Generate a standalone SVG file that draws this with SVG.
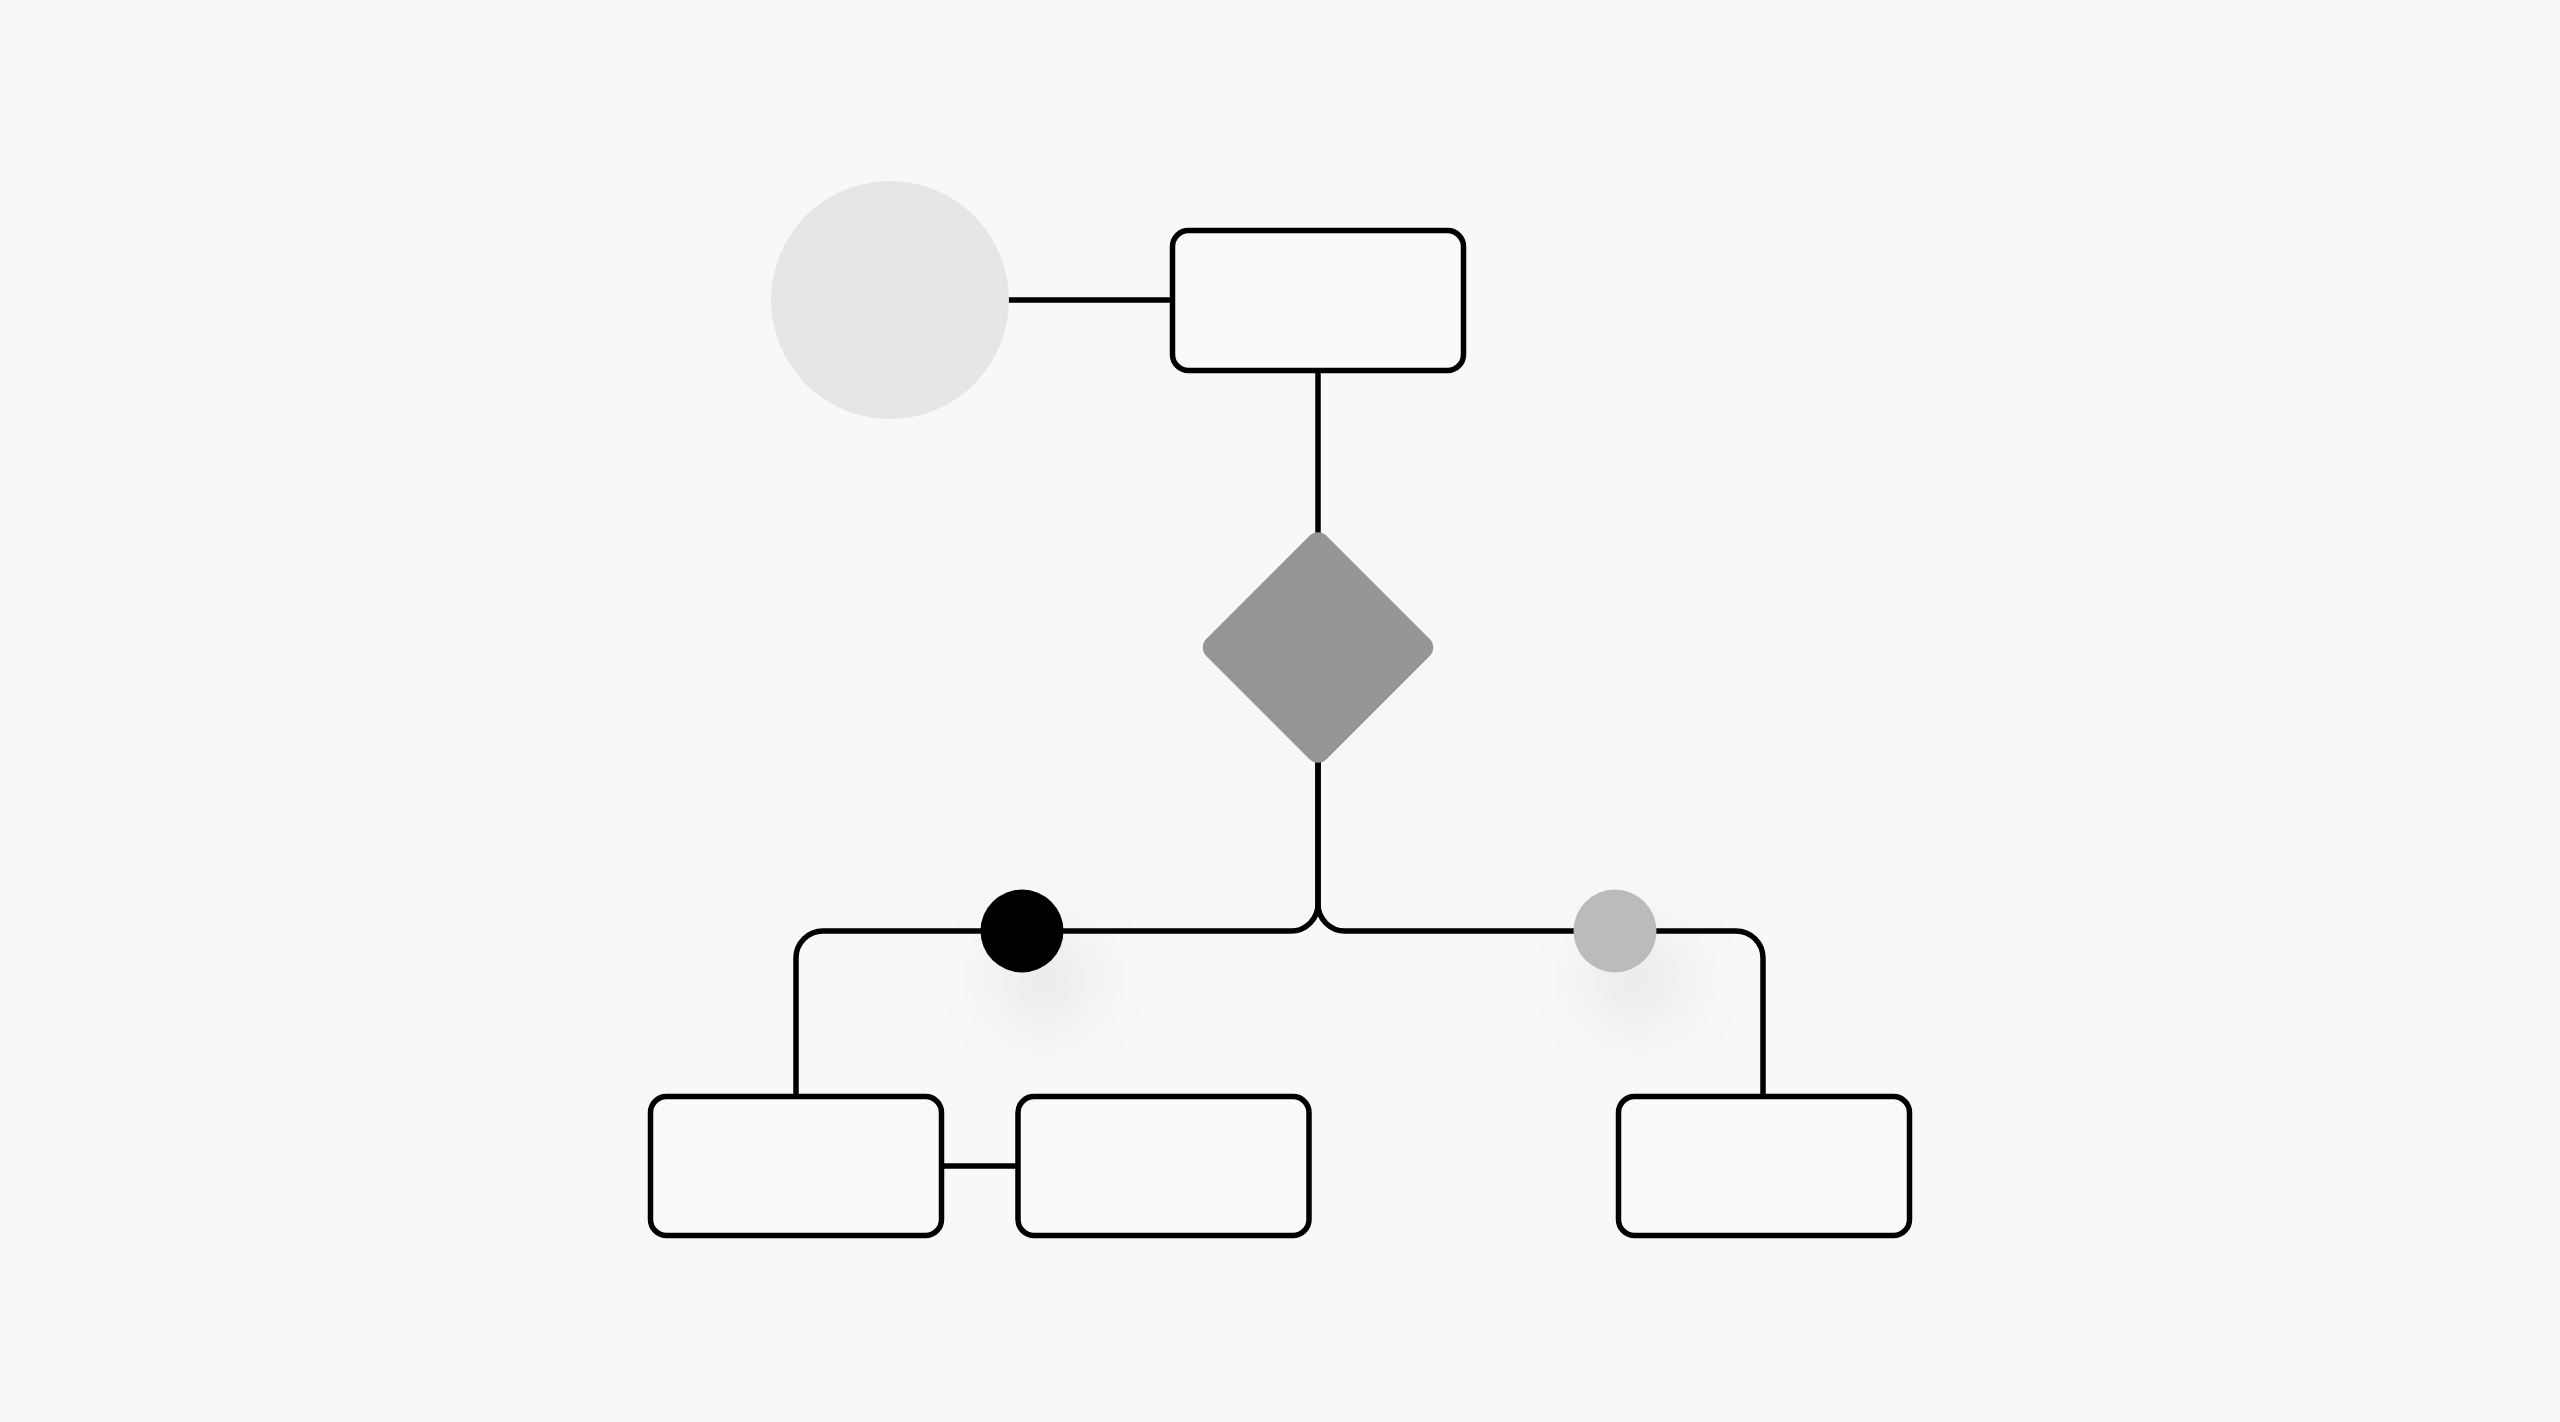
<svg xmlns="http://www.w3.org/2000/svg" width="2560" height="1422" viewBox="0 0 2560 1422">
  <style>
    .box { fill: #fafafa; stroke: #000000; stroke-width: 5.5; }
    .link { fill: none; stroke: #000000; stroke-width: 5.5; }
  </style>
  <defs>
    <filter id="soft" x="-200%" y="-200%" width="500%" height="500%">
      <feDropShadow dx="22" dy="48" stdDeviation="36" flood-color="#000000" flood-opacity="0.085"/>
    </filter>
  </defs>
  <rect x="0" y="0" width="2560" height="1422" fill="#f8f8f8"/>

  <g id="connectors">
    <path class="link" d="M1008 300 H1172"/>
    <path class="link" d="M1318 370 V535"/>
    <path class="link" d="M1318 760 V904 A27 27 0 0 1 1291 931 H823 A27 27 0 0 0 796 958 V1096"/>
    <path class="link" d="M1318 760 V904 A27 27 0 0 0 1345 931 H1736 A27 27 0 0 1 1763 958 V1096"/>
    <path class="link" d="M942 1166 H1018"/>
  </g>

  <g id="start-circle">
    <circle cx="890" cy="300" r="119" fill="#e6e6e6"/>
  </g>
  <g id="top-box">
    <rect class="box" x="1172.5" y="230.5" width="291" height="140" rx="16"/>
  </g>
  <g id="decision">
    <rect x="-85" y="-85" width="170" height="170" rx="12" fill="#969696" transform="translate(1318 647.5) rotate(45)"/>
  </g>
  <g id="black-dot">
    <circle cx="1022" cy="931" r="41.5" fill="#000000" filter="url(#soft)"/>
  </g>
  <g id="gray-dot">
    <circle cx="1615" cy="931" r="41.5" fill="#bbbbbb" filter="url(#soft)"/>
  </g>
  <g id="left-box">
    <rect class="box" x="650.5" y="1096.5" width="291" height="139" rx="16"/>
  </g>
  <g id="middle-box">
    <rect class="box" x="1018" y="1096.5" width="291" height="139" rx="16"/>
  </g>
  <g id="right-box">
    <rect class="box" x="1618.5" y="1096.5" width="291" height="139" rx="16"/>
  </g>
</svg>
